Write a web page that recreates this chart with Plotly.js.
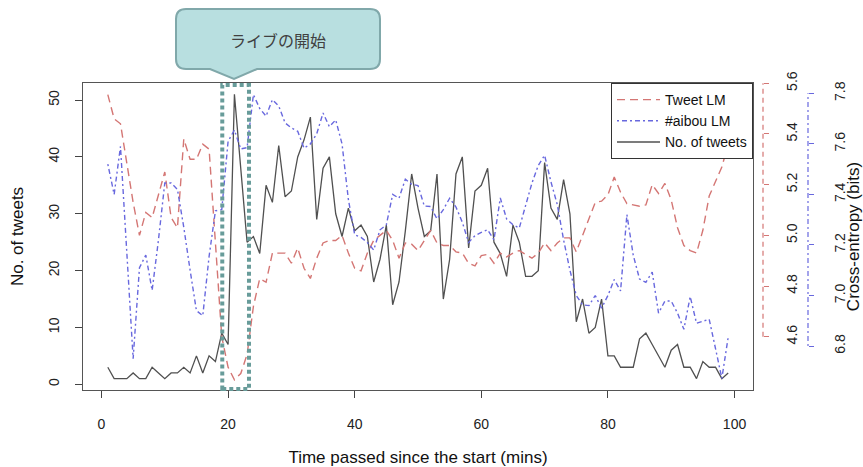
<!DOCTYPE html>
<html><head><meta charset="utf-8">
<script src="https://cdn.plot.ly/plotly-3.0.1.min.js"></script>
<style>html,body{margin:0;padding:0;background:#fff;} #chart{width:863px;height:467px;}</style>
</head><body><div id="chart"></div>
<script>
// ---- data ----
const minutes = [1,2,3,4,5,6,7,8,9,10,11,12,13,14,15,16,17,18,19,20,21,22,23,24,25,26,27,28,29,30,31,32,33,34,35,36,37,38,39,40,41,42,43,44,45,46,47,48,49,50,51,52,53,54,55,56,57,58,59,60,61,62,63,64,65,66,67,68,69,70,71,72,73,74,75,76,77,78,79,80,81,82,83,84,85,86,87,88,89,90,91,92,93,94,95,96,97,98,99];

const tweetCounts = [3,1,1,1,2,1,1,3,2,1, 2,2,3,2,5,2,5,4,9,7, 51,38,25,26,23,35,32,42,33,34, 40,43,47,29,38,40,30,26,31,27, 28,26,18,22,28,14,18,27,37,31, 26,27,37,15,22,37,40,24,34,35, 38,25,23,19,28,25,19,19,20,39, 31,29,36,30,11,15,9,10,15,5, 5,3,3,3,8,9,7,5,3,6, 7,3,3,1,4,3,3,1,2];

const tweetLM = [5.555,5.46,5.44,5.29,5.13,5.00,5.09,5.07,5.16,5.25, 5.07,5.03,5.38,5.30,5.30,5.36,5.34,4.98,4.60,4.48, 4.43,4.455,4.53,4.72,4.83,4.815,4.93,4.93,4.93,4.89, 4.95,4.87,4.83,4.91,4.97,4.98,4.98,5.00,4.93,4.87, 4.86,4.93,4.98,5.00,5.02,4.98,4.91,4.97,4.965,4.94, 4.98,5.02,4.97,4.96,4.96,4.935,4.93,4.89,4.88,4.92, 4.925,4.89,4.93,4.915,4.93,4.94,4.925,4.91,4.93,4.97, 4.94,4.97,4.99,4.99,4.935,5.00,5.07,5.13,5.135,5.16, 5.23,5.17,5.125,5.12,5.115,5.12,5.20,5.165,5.205,5.14, 5.03,4.96,4.94,4.93,5.02,5.155,5.21,5.27,5.36];

const aibouLM = [7.52,7.40,7.59,7.15,6.75,7.11,7.16,7.02,7.22,7.445, 7.445,7.42,7.27,7.10,6.94,6.92,7.155,7.335,7.34,7.61, 7.655,7.58,7.585,7.795,7.74,7.71,7.775,7.75,7.683,7.663, 7.65,7.583,7.60,7.64,7.722,7.668,7.695,7.60,7.38,7.24, 7.23,7.21,7.18,7.26,7.28,7.40,7.385,7.46,7.44,7.435, 7.354,7.352,7.303,7.34,7.385,7.35,7.29,7.21,7.237,7.25, 7.26,7.22,7.386,7.303,7.28,7.267,7.36,7.445,7.515,7.555, 7.45,7.36,7.22,7.10,7.0,6.963,6.96,7.0,6.95,7.0, 7.063,7.018,7.32,7.16,7.065,7.052,7.093,6.93,6.978,6.978, 6.93,6.866,6.996,6.89,6.898,6.906,6.79,6.672,6.835];

const xTicks = [0,20,40,60,80,100];
const countTicks = [0,10,20,30,40,50];
const tweetLMTicks = [4.6,4.8,5.0,5.2,5.4,5.6];
const aibouLMTicks = [6.8,7.0,7.2,7.4,7.6,7.8];
const seriesNames = ['Tweet LM', '#aibou LM', 'No. of tweets'];
const calloutText = 'ライブの開始';
const xTitle = 'Time passed since the start (mins)';
const yTitle = 'No. of tweets';
const y2Title = 'Cross-entropy (bits)';

// ---- styling ----
const RED = 'rgb(212,118,116)';
const BLUE = 'rgb(104,104,222)';
const BLACK = '#505050';
const TEAL = 'rgb(104,156,154)';

// frame geometry (pixels) used for the annotation callout
const W = 863, H = 467, ML = 83, MR = 5, MT = 83, MB = 77;
const PW = W - ML - MR, PH = H - MT - MB;
const px2x = p => (p - ML) / PW;
const py2y = p => (MT + PH - p) / PH;
const plotRight = 753;
const xDomEnd = px2x(plotRight);

function pathFromPixels(cmds) {
  return cmds.map(c => {
    const op = c[0];
    const nums = c.slice(1);
    const out = [];
    for (let i = 0; i < nums.length; i += 2) {
      out.push(px2x(nums[i]).toFixed(5) + ',' + py2y(nums[i+1]).toFixed(5));
    }
    return op + out.join(' ');
  }).join(' ');
}

const calloutPath = pathFromPixels([
  ['M',186,9],['L',370,9],['Q',380,9,380,19],['L',380,59],['Q',380,69,370,69],
  ['L',257,69],['L',234,79],['L',210,69],['L',186,69],['Q',176,69,176,59],
  ['L',176,19],['Q',176,9,186,9]
]) + ' Z';

const traces = [
  {x: minutes, y: tweetLM, yaxis: 'y2', type: 'scatter', mode: 'lines', name: seriesNames[0],
   line: {color: RED, width: 1.4, dash: '8px,5px'}},
  {x: minutes, y: aibouLM, yaxis: 'y3', type: 'scatter', mode: 'lines', name: seriesNames[1],
   line: {color: BLUE, width: 1.4, dash: '2px,3px,5px,3px'}},
  {x: minutes, y: tweetCounts, yaxis: 'y', type: 'scatter', mode: 'lines', name: seriesNames[2],
   line: {color: BLACK, width: 1.3}}
];

const tickFont = {family: 'Liberation Sans, Arial, sans-serif', size: 14, color: '#222'};
const titleFont = {family: 'Liberation Sans, Arial, sans-serif', size: 17, color: '#111'};

const layout = {
  width: W, height: H,
  margin: {l: ML, r: MR, t: MT, b: MB, pad: 0},
  paper_bgcolor: '#fff', plot_bgcolor: '#fff',
  font: tickFont,
  showlegend: true,
  legend: {x: xDomEnd, xanchor: 'right', y: 1, yanchor: 'top', bgcolor: '#fff',
           bordercolor: '#333', borderwidth: 1, font: {family: 'Liberation Sans, Arial, sans-serif', size: 14, color: '#111'},
           tracegroupgap: 0, itemwidth: 43},
  xaxis: {domain: [0, xDomEnd], range: [-2.92, 102.92], tickvals: xTicks, ticktext: xTicks.map(String),
          ticks: 'outside', ticklen: 7, tickwidth: 1, tickcolor: '#444',
          showline: true, mirror: true, linecolor: '#555', linewidth: 1.2,
          showgrid: false, zeroline: false, tickfont: tickFont, ticklabelstandoff: 14,
          title: {text: xTitle, font: titleFont, standoff: 20}},
  yaxis: {range: [-1, 53], tickvals: countTicks, ticktext: countTicks.map(String), tickangle: -90,
          ticks: 'outside', ticklen: 7, tickwidth: 1, tickcolor: '#444',
          showline: true, mirror: true, linecolor: '#555', linewidth: 1.2,
          showgrid: false, zeroline: false, tickfont: tickFont, ticklabelstandoff: 10,
          title: {text: yTitle, font: titleFont, standoff: 18}},
  yaxis2: {overlaying: 'y', side: 'right', anchor: 'free', position: px2x(763),
           range: [4.39, 5.601], tickvals: tweetLMTicks, ticktext: tweetLMTicks.map(v => v.toFixed(1)),
           tickangle: -90, ticks: 'outside', ticklen: 5, tickwidth: 1, tickcolor: RED,
           showline: false, showgrid: false, zeroline: false, tickfont: tickFont, ticklabelstandoff: 11},
  yaxis3: {overlaying: 'y', side: 'right', anchor: 'free', position: px2x(808),
           range: [6.626, 7.841], tickvals: aibouLMTicks, ticktext: aibouLMTicks.map(v => v.toFixed(1)),
           tickangle: -90, ticks: 'outside', ticklen: 5, tickwidth: 1, tickcolor: BLUE,
           showline: false, showgrid: false, zeroline: false, tickfont: tickFont, ticklabelstandoff: 14,
           title: {text: y2Title, font: titleFont, standoff: 2}},
  shapes: [
    // right axis lines (R style: only between first and last tick)
    {type: 'line', xref: 'paper', yref: 'y2', x0: px2x(763), x1: px2x(763),
     y0: tweetLMTicks[0], y1: tweetLMTicks[tweetLMTicks.length-1], line: {color: RED, width: 1.2, dash: '5px,4px'}},
    {type: 'line', xref: 'paper', yref: 'y3', x0: px2x(808), x1: px2x(808),
     y0: aibouLMTicks[0], y1: aibouLMTicks[aibouLMTicks.length-1], line: {color: BLUE, width: 1.2, dash: '2px,3px,5px,3px'}},
    // highlighted interval
    {type: 'rect', xref: 'x', yref: 'paper', x0: 19.08, x1: 23.3, y0: py2y(389), y1: py2y(85),
     line: {color: TEAL, width: 4, dash: '4px,3px'}, fillcolor: 'rgba(0,0,0,0)', layer: 'above'},
    // callout
    {type: 'path', xref: 'paper', yref: 'paper', path: calloutPath,
     fillcolor: 'rgb(184,223,224)', line: {color: 'rgb(128,168,170)', width: 2}, layer: 'above'}
  ],
  annotations: [
    {xref: 'paper', yref: 'paper', x: px2x(278), y: py2y(40), text: calloutText, showarrow: false,
     xanchor: 'center', yanchor: 'middle',
     font: {family: 'Noto Sans CJK JP, sans-serif', size: 16, color: '#404040'}}
  ]
};

Plotly.newPlot('chart', traces, layout, {displayModeBar: false, staticPlot: true});
</script>
</body></html>
